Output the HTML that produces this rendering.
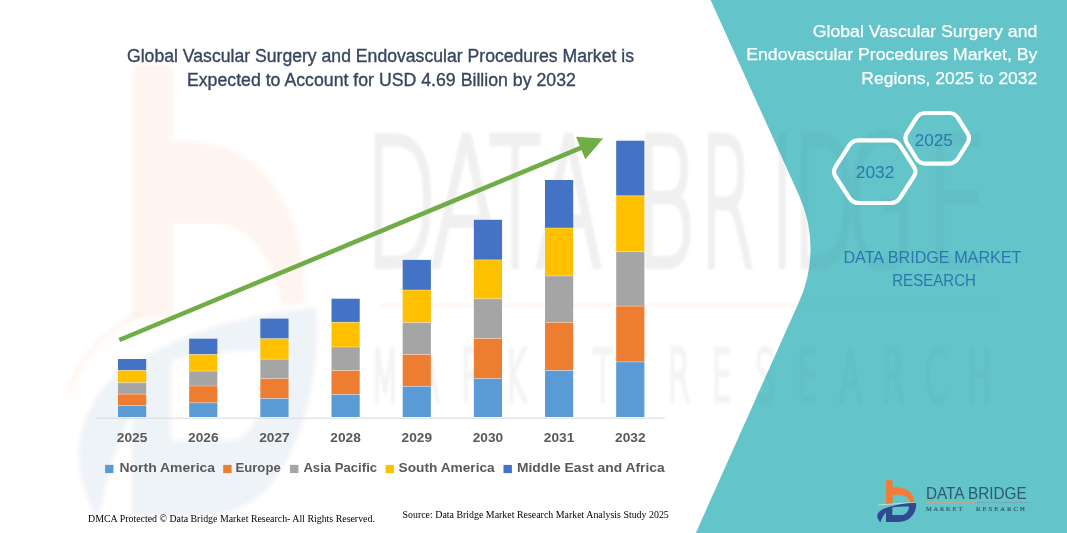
<!DOCTYPE html>
<html><head><meta charset="utf-8"><title>Global Vascular Surgery and Endovascular Procedures Market</title>
<style>html,body{margin:0;padding:0;background:#fff;overflow:hidden}svg{display:block}</style></head>
<body><svg width="1067" height="533" viewBox="0 0 1067 533">
<rect width="1067" height="533" fill="#fff"/>
<defs><clipPath id="tc"><path d="M710.6 0 L799.1 195.6 A129 129 0 0 1 799.4 301.1 L695.8 533 L1067 533 L1067 0 Z"/></clipPath></defs>
<defs><filter id="bl" x="-10%" y="-10%" width="120%" height="120%"><feGaussianBlur stdDeviation="2"/></filter><filter id="bl2" x="-5%" y="-5%" width="110%" height="110%"><feGaussianBlur stdDeviation="1.3"/></filter></defs>
<g filter="url(#bl)"><g transform="translate(133,65) scale(6.1,10.8) translate(-886.1,-480.2)"><g opacity="0.08"><path d="M886.1 480.2 L892.6 480.2 L892.6 487.3 C900 487 907 488.5 911 493 C913.5 496 914.5 499 914.2 502.3 L910.5 502.5 C909.5 498.5 906 495.5 900 494.8 L892.6 494.8 L892.6 503.6 L886.1 503.6 Z" fill="#f47b36"/></g><g opacity="0.065"><path fill-rule="evenodd" d="M880.4 522.2 C877.5 519.5 876.8 516.5 877.5 514.5 C879 511 883 508.5 888 507.2 C895 505 905 503.2 916.1 502.7 C916.8 509 914 515.5 908 519.5 C904.5 521.5 900 522 895 522 L886 522 L886 512.5 C884 514 882 518 880.4 522.2 Z M892.3 507.6 L892.3 515 L903 515 C906.5 514 908.6 511 909.2 506.6 C903 506.5 897 506.8 892.3 507.6 Z" fill="#2f4a8e"/></g></g><path d="M68 392 Q88 338 140 314" fill="none" stroke="#f47b36" stroke-opacity="0.07" stroke-width="6"/></g>
<g filter="url(#bl2)"><g opacity="0.06"><text transform="scale(0.53 1)" x="688.4" y="266.3" font-family="DejaVu Sans, sans-serif" font-weight="200" font-size="178" fill="#000" stroke="#000" stroke-width="5" vector-effect="non-scaling-stroke">D</text><text transform="scale(0.6 1)" x="716.7" y="266.3" font-family="DejaVu Sans, sans-serif" font-weight="200" font-size="178" fill="#000" stroke="#000" stroke-width="5" vector-effect="non-scaling-stroke">A</text><text transform="scale(0.48 1)" x="1018.8" y="266.3" font-family="DejaVu Sans, sans-serif" font-weight="200" font-size="178" fill="#000" stroke="#000" stroke-width="5" vector-effect="non-scaling-stroke">T</text><text transform="scale(0.555 1)" x="964.0" y="266.3" font-family="DejaVu Sans, sans-serif" font-weight="200" font-size="178" fill="#000" stroke="#000" stroke-width="5" vector-effect="non-scaling-stroke">A</text><text transform="scale(0.515 1)" x="1233.3" y="266.3" font-family="DejaVu Sans, sans-serif" font-weight="200" font-size="178" fill="#000" stroke="#000" stroke-width="5" vector-effect="non-scaling-stroke">B</text><text transform="scale(0.45 1)" x="1554.2" y="266.3" font-family="DejaVu Sans, sans-serif" font-weight="200" font-size="178" fill="#000" stroke="#000" stroke-width="5" vector-effect="non-scaling-stroke">R</text><text transform="scale(0.47 1)" x="1638.3" y="266.3" font-family="DejaVu Sans, sans-serif" font-weight="200" font-size="178" fill="#000" stroke="#000" stroke-width="5" vector-effect="non-scaling-stroke">I</text><text transform="scale(0.47 1)" x="1685.2" y="266.3" font-family="DejaVu Sans, sans-serif" font-weight="200" font-size="178" fill="#000" stroke="#000" stroke-width="5" vector-effect="non-scaling-stroke">D</text><text transform="scale(0.5 1)" x="1691.4" y="266.3" font-family="DejaVu Sans, sans-serif" font-weight="200" font-size="178" fill="#000" stroke="#000" stroke-width="5" vector-effect="non-scaling-stroke">G</text><text transform="scale(0.55 1)" x="1682.7" y="266.3" font-family="DejaVu Sans, sans-serif" font-weight="200" font-size="178" fill="#000" stroke="#000" stroke-width="5" vector-effect="non-scaling-stroke">E</text></g><g opacity="0.075"><line x1="380" y1="305" x2="1000" y2="305" stroke="#f47b36" stroke-opacity="1" stroke-width="3"/></g><g opacity="0.045"><text x="385.0" y="401" text-anchor="middle" font-family="DejaVu Sans, sans-serif" font-weight="200" font-size="72" fill="#000" stroke="#000" stroke-width="4" vector-effect="non-scaling-stroke" transform="translate(385.0 0) scale(0.45 1) translate(-385.0 0)">M</text><text x="428.6" y="401" text-anchor="middle" font-family="DejaVu Sans, sans-serif" font-weight="200" font-size="72" fill="#000" stroke="#000" stroke-width="4" vector-effect="non-scaling-stroke" transform="translate(428.6 0) scale(0.45 1) translate(-428.6 0)">A</text><text x="472.2" y="401" text-anchor="middle" font-family="DejaVu Sans, sans-serif" font-weight="200" font-size="72" fill="#000" stroke="#000" stroke-width="4" vector-effect="non-scaling-stroke" transform="translate(472.2 0) scale(0.45 1) translate(-472.2 0)">R</text><text x="515.8" y="401" text-anchor="middle" font-family="DejaVu Sans, sans-serif" font-weight="200" font-size="72" fill="#000" stroke="#000" stroke-width="4" vector-effect="non-scaling-stroke" transform="translate(515.8 0) scale(0.45 1) translate(-515.8 0)">K</text><text x="559.4" y="401" text-anchor="middle" font-family="DejaVu Sans, sans-serif" font-weight="200" font-size="72" fill="#000" stroke="#000" stroke-width="4" vector-effect="non-scaling-stroke" transform="translate(559.4 0) scale(0.45 1) translate(-559.4 0)">E</text><text x="603.0" y="401" text-anchor="middle" font-family="DejaVu Sans, sans-serif" font-weight="200" font-size="72" fill="#000" stroke="#000" stroke-width="4" vector-effect="non-scaling-stroke" transform="translate(603.0 0) scale(0.45 1) translate(-603.0 0)">T</text><text x="679.0" y="401" text-anchor="middle" font-family="DejaVu Sans, sans-serif" font-weight="200" font-size="72" fill="#000" stroke="#000" stroke-width="4" vector-effect="non-scaling-stroke" transform="translate(679.0 0) scale(0.45 1) translate(-679.0 0)">R</text><text x="721.9" y="401" text-anchor="middle" font-family="DejaVu Sans, sans-serif" font-weight="200" font-size="72" fill="#000" stroke="#000" stroke-width="4" vector-effect="non-scaling-stroke" transform="translate(721.9 0) scale(0.45 1) translate(-721.9 0)">E</text><text x="764.7" y="401" text-anchor="middle" font-family="DejaVu Sans, sans-serif" font-weight="200" font-size="72" fill="#000" stroke="#000" stroke-width="4" vector-effect="non-scaling-stroke" transform="translate(764.7 0) scale(0.45 1) translate(-764.7 0)">S</text><text x="807.6" y="401" text-anchor="middle" font-family="DejaVu Sans, sans-serif" font-weight="200" font-size="72" fill="#000" stroke="#000" stroke-width="4" vector-effect="non-scaling-stroke" transform="translate(807.6 0) scale(0.45 1) translate(-807.6 0)">E</text><text x="850.4" y="401" text-anchor="middle" font-family="DejaVu Sans, sans-serif" font-weight="200" font-size="72" fill="#000" stroke="#000" stroke-width="4" vector-effect="non-scaling-stroke" transform="translate(850.4 0) scale(0.45 1) translate(-850.4 0)">A</text><text x="893.3" y="401" text-anchor="middle" font-family="DejaVu Sans, sans-serif" font-weight="200" font-size="72" fill="#000" stroke="#000" stroke-width="4" vector-effect="non-scaling-stroke" transform="translate(893.3 0) scale(0.45 1) translate(-893.3 0)">R</text><text x="936.2" y="401" text-anchor="middle" font-family="DejaVu Sans, sans-serif" font-weight="200" font-size="72" fill="#000" stroke="#000" stroke-width="4" vector-effect="non-scaling-stroke" transform="translate(936.2 0) scale(0.45 1) translate(-936.2 0)">C</text><text x="979.0" y="401" text-anchor="middle" font-family="DejaVu Sans, sans-serif" font-weight="200" font-size="72" fill="#000" stroke="#000" stroke-width="4" vector-effect="non-scaling-stroke" transform="translate(979.0 0) scale(0.45 1) translate(-979.0 0)">H</text></g></g>
<path d="M710.6 0 L799.1 195.6 A129 129 0 0 1 799.4 301.1 L695.8 533 L1067 533 L1067 0 Z" fill="#63c4ca"/>
<g clip-path="url(#tc)"><g filter="url(#bl2)"><g opacity="0.03"><text transform="scale(0.53 1)" x="688.4" y="266.3" font-family="DejaVu Sans, sans-serif" font-weight="200" font-size="178" fill="#000" stroke="#000" stroke-width="5" vector-effect="non-scaling-stroke">D</text><text transform="scale(0.6 1)" x="716.7" y="266.3" font-family="DejaVu Sans, sans-serif" font-weight="200" font-size="178" fill="#000" stroke="#000" stroke-width="5" vector-effect="non-scaling-stroke">A</text><text transform="scale(0.48 1)" x="1018.8" y="266.3" font-family="DejaVu Sans, sans-serif" font-weight="200" font-size="178" fill="#000" stroke="#000" stroke-width="5" vector-effect="non-scaling-stroke">T</text><text transform="scale(0.555 1)" x="964.0" y="266.3" font-family="DejaVu Sans, sans-serif" font-weight="200" font-size="178" fill="#000" stroke="#000" stroke-width="5" vector-effect="non-scaling-stroke">A</text><text transform="scale(0.515 1)" x="1233.3" y="266.3" font-family="DejaVu Sans, sans-serif" font-weight="200" font-size="178" fill="#000" stroke="#000" stroke-width="5" vector-effect="non-scaling-stroke">B</text><text transform="scale(0.45 1)" x="1554.2" y="266.3" font-family="DejaVu Sans, sans-serif" font-weight="200" font-size="178" fill="#000" stroke="#000" stroke-width="5" vector-effect="non-scaling-stroke">R</text><text transform="scale(0.47 1)" x="1638.3" y="266.3" font-family="DejaVu Sans, sans-serif" font-weight="200" font-size="178" fill="#000" stroke="#000" stroke-width="5" vector-effect="non-scaling-stroke">I</text><text transform="scale(0.47 1)" x="1685.2" y="266.3" font-family="DejaVu Sans, sans-serif" font-weight="200" font-size="178" fill="#000" stroke="#000" stroke-width="5" vector-effect="non-scaling-stroke">D</text><text transform="scale(0.5 1)" x="1691.4" y="266.3" font-family="DejaVu Sans, sans-serif" font-weight="200" font-size="178" fill="#000" stroke="#000" stroke-width="5" vector-effect="non-scaling-stroke">G</text><text transform="scale(0.55 1)" x="1682.7" y="266.3" font-family="DejaVu Sans, sans-serif" font-weight="200" font-size="178" fill="#000" stroke="#000" stroke-width="5" vector-effect="non-scaling-stroke">E</text></g><g opacity="0.03"><line x1="380" y1="305" x2="1000" y2="305" stroke="#f47b36" stroke-opacity="1" stroke-width="3"/></g><g opacity="0.025"><text x="385.0" y="401" text-anchor="middle" font-family="DejaVu Sans, sans-serif" font-weight="200" font-size="72" fill="#000" stroke="#000" stroke-width="4" vector-effect="non-scaling-stroke" transform="translate(385.0 0) scale(0.45 1) translate(-385.0 0)">M</text><text x="428.6" y="401" text-anchor="middle" font-family="DejaVu Sans, sans-serif" font-weight="200" font-size="72" fill="#000" stroke="#000" stroke-width="4" vector-effect="non-scaling-stroke" transform="translate(428.6 0) scale(0.45 1) translate(-428.6 0)">A</text><text x="472.2" y="401" text-anchor="middle" font-family="DejaVu Sans, sans-serif" font-weight="200" font-size="72" fill="#000" stroke="#000" stroke-width="4" vector-effect="non-scaling-stroke" transform="translate(472.2 0) scale(0.45 1) translate(-472.2 0)">R</text><text x="515.8" y="401" text-anchor="middle" font-family="DejaVu Sans, sans-serif" font-weight="200" font-size="72" fill="#000" stroke="#000" stroke-width="4" vector-effect="non-scaling-stroke" transform="translate(515.8 0) scale(0.45 1) translate(-515.8 0)">K</text><text x="559.4" y="401" text-anchor="middle" font-family="DejaVu Sans, sans-serif" font-weight="200" font-size="72" fill="#000" stroke="#000" stroke-width="4" vector-effect="non-scaling-stroke" transform="translate(559.4 0) scale(0.45 1) translate(-559.4 0)">E</text><text x="603.0" y="401" text-anchor="middle" font-family="DejaVu Sans, sans-serif" font-weight="200" font-size="72" fill="#000" stroke="#000" stroke-width="4" vector-effect="non-scaling-stroke" transform="translate(603.0 0) scale(0.45 1) translate(-603.0 0)">T</text><text x="679.0" y="401" text-anchor="middle" font-family="DejaVu Sans, sans-serif" font-weight="200" font-size="72" fill="#000" stroke="#000" stroke-width="4" vector-effect="non-scaling-stroke" transform="translate(679.0 0) scale(0.45 1) translate(-679.0 0)">R</text><text x="721.9" y="401" text-anchor="middle" font-family="DejaVu Sans, sans-serif" font-weight="200" font-size="72" fill="#000" stroke="#000" stroke-width="4" vector-effect="non-scaling-stroke" transform="translate(721.9 0) scale(0.45 1) translate(-721.9 0)">E</text><text x="764.7" y="401" text-anchor="middle" font-family="DejaVu Sans, sans-serif" font-weight="200" font-size="72" fill="#000" stroke="#000" stroke-width="4" vector-effect="non-scaling-stroke" transform="translate(764.7 0) scale(0.45 1) translate(-764.7 0)">S</text><text x="807.6" y="401" text-anchor="middle" font-family="DejaVu Sans, sans-serif" font-weight="200" font-size="72" fill="#000" stroke="#000" stroke-width="4" vector-effect="non-scaling-stroke" transform="translate(807.6 0) scale(0.45 1) translate(-807.6 0)">E</text><text x="850.4" y="401" text-anchor="middle" font-family="DejaVu Sans, sans-serif" font-weight="200" font-size="72" fill="#000" stroke="#000" stroke-width="4" vector-effect="non-scaling-stroke" transform="translate(850.4 0) scale(0.45 1) translate(-850.4 0)">A</text><text x="893.3" y="401" text-anchor="middle" font-family="DejaVu Sans, sans-serif" font-weight="200" font-size="72" fill="#000" stroke="#000" stroke-width="4" vector-effect="non-scaling-stroke" transform="translate(893.3 0) scale(0.45 1) translate(-893.3 0)">R</text><text x="936.2" y="401" text-anchor="middle" font-family="DejaVu Sans, sans-serif" font-weight="200" font-size="72" fill="#000" stroke="#000" stroke-width="4" vector-effect="non-scaling-stroke" transform="translate(936.2 0) scale(0.45 1) translate(-936.2 0)">C</text><text x="979.0" y="401" text-anchor="middle" font-family="DejaVu Sans, sans-serif" font-weight="200" font-size="72" fill="#000" stroke="#000" stroke-width="4" vector-effect="non-scaling-stroke" transform="translate(979.0 0) scale(0.45 1) translate(-979.0 0)">H</text></g></g></g>
<line x1="96" y1="418.2" x2="665" y2="418.2" stroke="#d9d9d9" stroke-width="1"/>
<rect x="118.00" y="359.00" width="28.2" height="11.40" fill="#4472c4"/>
<rect x="118.00" y="370.40" width="28.2" height="12.30" fill="#ffc000"/>
<rect x="118.00" y="382.70" width="28.2" height="11.40" fill="#a5a5a5"/>
<rect x="118.00" y="394.10" width="28.2" height="11.50" fill="#ed7d31"/>
<rect x="118.00" y="405.60" width="28.2" height="11.40" fill="#5b9bd5"/>
<line x1="118.00" y1="370.40" x2="146.20" y2="370.40" stroke="#fff" stroke-opacity="0.45" stroke-width="0.8"/>
<line x1="118.00" y1="382.70" x2="146.20" y2="382.70" stroke="#fff" stroke-opacity="0.45" stroke-width="0.8"/>
<line x1="118.00" y1="394.10" x2="146.20" y2="394.10" stroke="#fff" stroke-opacity="0.45" stroke-width="0.8"/>
<line x1="118.00" y1="405.60" x2="146.20" y2="405.60" stroke="#fff" stroke-opacity="0.45" stroke-width="0.8"/>
<rect x="189.17" y="338.70" width="28.2" height="15.80" fill="#4472c4"/>
<rect x="189.17" y="354.50" width="28.2" height="16.60" fill="#ffc000"/>
<rect x="189.17" y="371.10" width="28.2" height="14.90" fill="#a5a5a5"/>
<rect x="189.17" y="386.00" width="28.2" height="16.80" fill="#ed7d31"/>
<rect x="189.17" y="402.80" width="28.2" height="14.20" fill="#5b9bd5"/>
<line x1="189.17" y1="354.50" x2="217.37" y2="354.50" stroke="#fff" stroke-opacity="0.45" stroke-width="0.8"/>
<line x1="189.17" y1="371.10" x2="217.37" y2="371.10" stroke="#fff" stroke-opacity="0.45" stroke-width="0.8"/>
<line x1="189.17" y1="386.00" x2="217.37" y2="386.00" stroke="#fff" stroke-opacity="0.45" stroke-width="0.8"/>
<line x1="189.17" y1="402.80" x2="217.37" y2="402.80" stroke="#fff" stroke-opacity="0.45" stroke-width="0.8"/>
<rect x="260.34" y="318.60" width="28.2" height="20.10" fill="#4472c4"/>
<rect x="260.34" y="338.70" width="28.2" height="20.50" fill="#ffc000"/>
<rect x="260.34" y="359.20" width="28.2" height="19.40" fill="#a5a5a5"/>
<rect x="260.34" y="378.60" width="28.2" height="19.90" fill="#ed7d31"/>
<rect x="260.34" y="398.50" width="28.2" height="18.50" fill="#5b9bd5"/>
<line x1="260.34" y1="338.70" x2="288.54" y2="338.70" stroke="#fff" stroke-opacity="0.45" stroke-width="0.8"/>
<line x1="260.34" y1="359.20" x2="288.54" y2="359.20" stroke="#fff" stroke-opacity="0.45" stroke-width="0.8"/>
<line x1="260.34" y1="378.60" x2="288.54" y2="378.60" stroke="#fff" stroke-opacity="0.45" stroke-width="0.8"/>
<line x1="260.34" y1="398.50" x2="288.54" y2="398.50" stroke="#fff" stroke-opacity="0.45" stroke-width="0.8"/>
<rect x="331.51" y="298.70" width="28.2" height="23.60" fill="#4472c4"/>
<rect x="331.51" y="322.30" width="28.2" height="24.70" fill="#ffc000"/>
<rect x="331.51" y="347.00" width="28.2" height="23.60" fill="#a5a5a5"/>
<rect x="331.51" y="370.60" width="28.2" height="24.00" fill="#ed7d31"/>
<rect x="331.51" y="394.60" width="28.2" height="22.40" fill="#5b9bd5"/>
<line x1="331.51" y1="322.30" x2="359.71" y2="322.30" stroke="#fff" stroke-opacity="0.45" stroke-width="0.8"/>
<line x1="331.51" y1="347.00" x2="359.71" y2="347.00" stroke="#fff" stroke-opacity="0.45" stroke-width="0.8"/>
<line x1="331.51" y1="370.60" x2="359.71" y2="370.60" stroke="#fff" stroke-opacity="0.45" stroke-width="0.8"/>
<line x1="331.51" y1="394.60" x2="359.71" y2="394.60" stroke="#fff" stroke-opacity="0.45" stroke-width="0.8"/>
<rect x="402.68" y="259.90" width="28.2" height="30.10" fill="#4472c4"/>
<rect x="402.68" y="290.00" width="28.2" height="32.60" fill="#ffc000"/>
<rect x="402.68" y="322.60" width="28.2" height="31.90" fill="#a5a5a5"/>
<rect x="402.68" y="354.50" width="28.2" height="31.90" fill="#ed7d31"/>
<rect x="402.68" y="386.40" width="28.2" height="30.60" fill="#5b9bd5"/>
<line x1="402.68" y1="290.00" x2="430.88" y2="290.00" stroke="#fff" stroke-opacity="0.45" stroke-width="0.8"/>
<line x1="402.68" y1="322.60" x2="430.88" y2="322.60" stroke="#fff" stroke-opacity="0.45" stroke-width="0.8"/>
<line x1="402.68" y1="354.50" x2="430.88" y2="354.50" stroke="#fff" stroke-opacity="0.45" stroke-width="0.8"/>
<line x1="402.68" y1="386.40" x2="430.88" y2="386.40" stroke="#fff" stroke-opacity="0.45" stroke-width="0.8"/>
<rect x="473.85" y="219.80" width="28.2" height="40.10" fill="#4472c4"/>
<rect x="473.85" y="259.90" width="28.2" height="38.90" fill="#ffc000"/>
<rect x="473.85" y="298.80" width="28.2" height="39.70" fill="#a5a5a5"/>
<rect x="473.85" y="338.50" width="28.2" height="40.10" fill="#ed7d31"/>
<rect x="473.85" y="378.60" width="28.2" height="38.40" fill="#5b9bd5"/>
<line x1="473.85" y1="259.90" x2="502.05" y2="259.90" stroke="#fff" stroke-opacity="0.45" stroke-width="0.8"/>
<line x1="473.85" y1="298.80" x2="502.05" y2="298.80" stroke="#fff" stroke-opacity="0.45" stroke-width="0.8"/>
<line x1="473.85" y1="338.50" x2="502.05" y2="338.50" stroke="#fff" stroke-opacity="0.45" stroke-width="0.8"/>
<line x1="473.85" y1="378.60" x2="502.05" y2="378.60" stroke="#fff" stroke-opacity="0.45" stroke-width="0.8"/>
<rect x="545.02" y="180.00" width="28.2" height="48.00" fill="#4472c4"/>
<rect x="545.02" y="228.00" width="28.2" height="48.00" fill="#ffc000"/>
<rect x="545.02" y="276.00" width="28.2" height="46.40" fill="#a5a5a5"/>
<rect x="545.02" y="322.40" width="28.2" height="48.10" fill="#ed7d31"/>
<rect x="545.02" y="370.50" width="28.2" height="46.50" fill="#5b9bd5"/>
<line x1="545.02" y1="228.00" x2="573.22" y2="228.00" stroke="#fff" stroke-opacity="0.45" stroke-width="0.8"/>
<line x1="545.02" y1="276.00" x2="573.22" y2="276.00" stroke="#fff" stroke-opacity="0.45" stroke-width="0.8"/>
<line x1="545.02" y1="322.40" x2="573.22" y2="322.40" stroke="#fff" stroke-opacity="0.45" stroke-width="0.8"/>
<line x1="545.02" y1="370.50" x2="573.22" y2="370.50" stroke="#fff" stroke-opacity="0.45" stroke-width="0.8"/>
<rect x="616.19" y="140.70" width="28.2" height="55.10" fill="#4472c4"/>
<rect x="616.19" y="195.80" width="28.2" height="55.80" fill="#ffc000"/>
<rect x="616.19" y="251.60" width="28.2" height="54.50" fill="#a5a5a5"/>
<rect x="616.19" y="306.10" width="28.2" height="55.80" fill="#ed7d31"/>
<rect x="616.19" y="361.90" width="28.2" height="55.10" fill="#5b9bd5"/>
<line x1="616.19" y1="195.80" x2="644.39" y2="195.80" stroke="#fff" stroke-opacity="0.45" stroke-width="0.8"/>
<line x1="616.19" y1="251.60" x2="644.39" y2="251.60" stroke="#fff" stroke-opacity="0.45" stroke-width="0.8"/>
<line x1="616.19" y1="306.10" x2="644.39" y2="306.10" stroke="#fff" stroke-opacity="0.45" stroke-width="0.8"/>
<line x1="616.19" y1="361.90" x2="644.39" y2="361.90" stroke="#fff" stroke-opacity="0.45" stroke-width="0.8"/>
<line x1="119.3" y1="340" x2="581.5" y2="147.6" stroke="#70ad47" stroke-width="4.6"/>
<polygon points="576,136.8 603.1,138.5 585.3,159.2" fill="#70ad47"/>
<text x="132.10" y="442.3" text-anchor="middle" font-family="Liberation Sans, sans-serif" font-weight="bold" font-size="12.8" fill="#595959" textLength="30.5" lengthAdjust="spacingAndGlyphs">2025</text>
<text x="203.27" y="442.3" text-anchor="middle" font-family="Liberation Sans, sans-serif" font-weight="bold" font-size="12.8" fill="#595959" textLength="30.5" lengthAdjust="spacingAndGlyphs">2026</text>
<text x="274.44" y="442.3" text-anchor="middle" font-family="Liberation Sans, sans-serif" font-weight="bold" font-size="12.8" fill="#595959" textLength="30.5" lengthAdjust="spacingAndGlyphs">2027</text>
<text x="345.61" y="442.3" text-anchor="middle" font-family="Liberation Sans, sans-serif" font-weight="bold" font-size="12.8" fill="#595959" textLength="30.5" lengthAdjust="spacingAndGlyphs">2028</text>
<text x="416.78" y="442.3" text-anchor="middle" font-family="Liberation Sans, sans-serif" font-weight="bold" font-size="12.8" fill="#595959" textLength="30.5" lengthAdjust="spacingAndGlyphs">2029</text>
<text x="487.95" y="442.3" text-anchor="middle" font-family="Liberation Sans, sans-serif" font-weight="bold" font-size="12.8" fill="#595959" textLength="30.5" lengthAdjust="spacingAndGlyphs">2030</text>
<text x="559.12" y="442.3" text-anchor="middle" font-family="Liberation Sans, sans-serif" font-weight="bold" font-size="12.8" fill="#595959" textLength="30.5" lengthAdjust="spacingAndGlyphs">2031</text>
<text x="630.29" y="442.3" text-anchor="middle" font-family="Liberation Sans, sans-serif" font-weight="bold" font-size="12.8" fill="#595959" textLength="30.5" lengthAdjust="spacingAndGlyphs">2032</text>
<rect x="105.1" y="464.9" width="8.4" height="8.2" fill="#5b9bd5"/>
<text x="119.5" y="472.2" font-family="Liberation Sans, sans-serif" font-weight="bold" font-size="12.6" fill="#595959" textLength="95.6" lengthAdjust="spacingAndGlyphs">North America</text>
<rect x="223.2" y="464.9" width="8.4" height="8.2" fill="#ed7d31"/>
<text x="235.5" y="472.2" font-family="Liberation Sans, sans-serif" font-weight="bold" font-size="12.6" fill="#595959" textLength="45.2" lengthAdjust="spacingAndGlyphs">Europe</text>
<rect x="290.0" y="464.9" width="8.4" height="8.2" fill="#a5a5a5"/>
<text x="303.4" y="472.2" font-family="Liberation Sans, sans-serif" font-weight="bold" font-size="12.6" fill="#595959" textLength="73.7" lengthAdjust="spacingAndGlyphs">Asia Pacific</text>
<rect x="385.6" y="464.9" width="8.4" height="8.2" fill="#ffc000"/>
<text x="398.6" y="472.2" font-family="Liberation Sans, sans-serif" font-weight="bold" font-size="12.6" fill="#595959" textLength="96.1" lengthAdjust="spacingAndGlyphs">South America</text>
<rect x="503.5" y="464.9" width="8.4" height="8.2" fill="#4472c4"/>
<text x="517.0" y="472.2" font-family="Liberation Sans, sans-serif" font-weight="bold" font-size="12.6" fill="#595959" textLength="147.6" lengthAdjust="spacingAndGlyphs">Middle East and Africa</text>
<text x="127" y="61.7" font-family="Liberation Sans, sans-serif" font-size="17.6" fill="#37465f" stroke="#37465f" stroke-width="0.35" textLength="507" lengthAdjust="spacingAndGlyphs">Global Vascular Surgery and Endovascular Procedures Market is</text>
<text x="186.9" y="85.7" font-family="Liberation Sans, sans-serif" font-size="17.6" fill="#37465f" stroke="#37465f" stroke-width="0.35" textLength="389" lengthAdjust="spacingAndGlyphs">Expected to Account for USD 4.69 Billion by 2032</text>
<text x="812.8" y="36.8" font-family="Liberation Sans, sans-serif" font-size="16.8" fill="#ffffff" stroke="#ffffff" stroke-width="0.25" textLength="224.5" lengthAdjust="spacingAndGlyphs">Global Vascular Surgery and</text>
<text x="746.3" y="60.3" font-family="Liberation Sans, sans-serif" font-size="16.8" fill="#ffffff" stroke="#ffffff" stroke-width="0.25" textLength="291.0" lengthAdjust="spacingAndGlyphs">Endovascular Procedures Market, By</text>
<text x="861.3" y="84.4" font-family="Liberation Sans, sans-serif" font-size="16.8" fill="#ffffff" stroke="#ffffff" stroke-width="0.25" textLength="176.0" lengthAdjust="spacingAndGlyphs">Regions, 2025 to 2032</text>
<path d="M835.65 176.74 Q832.40 171.70 835.65 166.66 L849.35 145.44 Q852.60 140.40 858.60 140.40 L890.80 140.40 Q896.80 140.40 900.05 145.44 L913.75 166.66 Q917.00 171.70 913.75 176.74 L900.05 197.96 Q896.80 203.00 890.80 203.00 L858.60 203.00 Q852.60 203.00 849.35 197.96 Z" fill="none" stroke="#fff" stroke-width="4.2" stroke-linejoin="round"/>
<path d="M906.96 143.40 Q903.80 138.30 906.96 133.20 L916.34 118.10 Q919.50 113.00 925.50 113.00 L948.90 113.00 Q954.90 113.00 958.06 118.10 L967.44 133.20 Q970.60 138.30 967.44 143.40 L958.06 158.50 Q954.90 163.60 948.90 163.60 L925.50 163.60 Q919.50 163.60 916.34 158.50 Z" fill="none" stroke="#fff" stroke-width="4.2" stroke-linejoin="round"/>
<text x="855.8" y="177.7" font-family="Liberation Sans, sans-serif" font-size="17.4" fill="#2a78ad" textLength="38.6" lengthAdjust="spacingAndGlyphs">2032</text>
<text x="914.7" y="145.5" font-family="Liberation Sans, sans-serif" font-size="17.4" fill="#2a78ad" textLength="38.1" lengthAdjust="spacingAndGlyphs">2025</text>
<text x="843.4" y="262.9" font-family="Liberation Sans, sans-serif" font-size="17.4" fill="#2a78ad" textLength="178.1" lengthAdjust="spacingAndGlyphs">DATA BRIDGE MARKET</text>
<text x="892.2" y="286.3" font-family="Liberation Sans, sans-serif" font-size="17.4" fill="#2a78ad" textLength="83.8" lengthAdjust="spacingAndGlyphs">RESEARCH</text>
<text x="88.1" y="522" font-family="Liberation Serif, serif" font-size="10.3" fill="#000" textLength="286.8" lengthAdjust="spacingAndGlyphs">DMCA Protected © Data Bridge Market Research-  All Rights Reserved.</text>
<text x="402.5" y="518.2" font-family="Liberation Serif, serif" font-size="10.6" fill="#000" textLength="266.3" lengthAdjust="spacingAndGlyphs">Source: Data Bridge Market Research  Market Analysis Study 2025</text>
<line x1="878" y1="505" x2="916" y2="502.3" stroke="#e8e0c0" stroke-width="0.8"/>
<path d="M886.1 480.2 L892.6 480.2 L892.6 487.3 C900 487 907 488.5 911 493 C913.5 496 914.5 499 914.2 502.3 L910.5 502.5 C909.5 498.5 906 495.5 900 494.8 L892.6 494.8 L892.6 503.6 L886.1 503.6 Z" fill="#f47b36"/>
<path fill-rule="evenodd" d="M880.4 522.2 C877.5 519.5 876.8 516.5 877.5 514.5 C879 511 883 508.5 888 507.2 C895 505 905 503.2 916.1 502.7 C916.8 509 914 515.5 908 519.5 C904.5 521.5 900 522 895 522 L886 522 L886 512.5 C884 514 882 518 880.4 522.2 Z M892.3 507.6 L892.3 515 L903 515 C906.5 514 908.6 511 909.2 506.6 C903 506.5 897 506.8 892.3 507.6 Z" fill="#2f4a8e"/>
<text x="925.9" y="499.2" font-family="Liberation Sans, sans-serif" font-size="17.2" fill="#2e5a6a" textLength="100.8" lengthAdjust="spacingAndGlyphs">DATA BRIDGE</text>
<line x1="925" y1="502.5" x2="975" y2="502.5" stroke="#c9a98a" stroke-width="0.8"/>
<line x1="977" y1="502.5" x2="1030" y2="502.5" stroke="#7f9fb0" stroke-width="0.8"/>
<text x="925.9" y="511.1" font-family="Liberation Serif, serif" font-size="6.8" fill="#2c5868" stroke="#2c5868" stroke-width="0.15" textLength="38.3" lengthAdjust="spacingAndGlyphs" letter-spacing="2">MARKET</text>
<text x="976" y="511.1" font-family="Liberation Serif, serif" font-size="6.8" fill="#2c5868" stroke="#2c5868" stroke-width="0.15" textLength="50.7" lengthAdjust="spacingAndGlyphs" letter-spacing="2">RESEARCH</text>
</svg></body></html>
